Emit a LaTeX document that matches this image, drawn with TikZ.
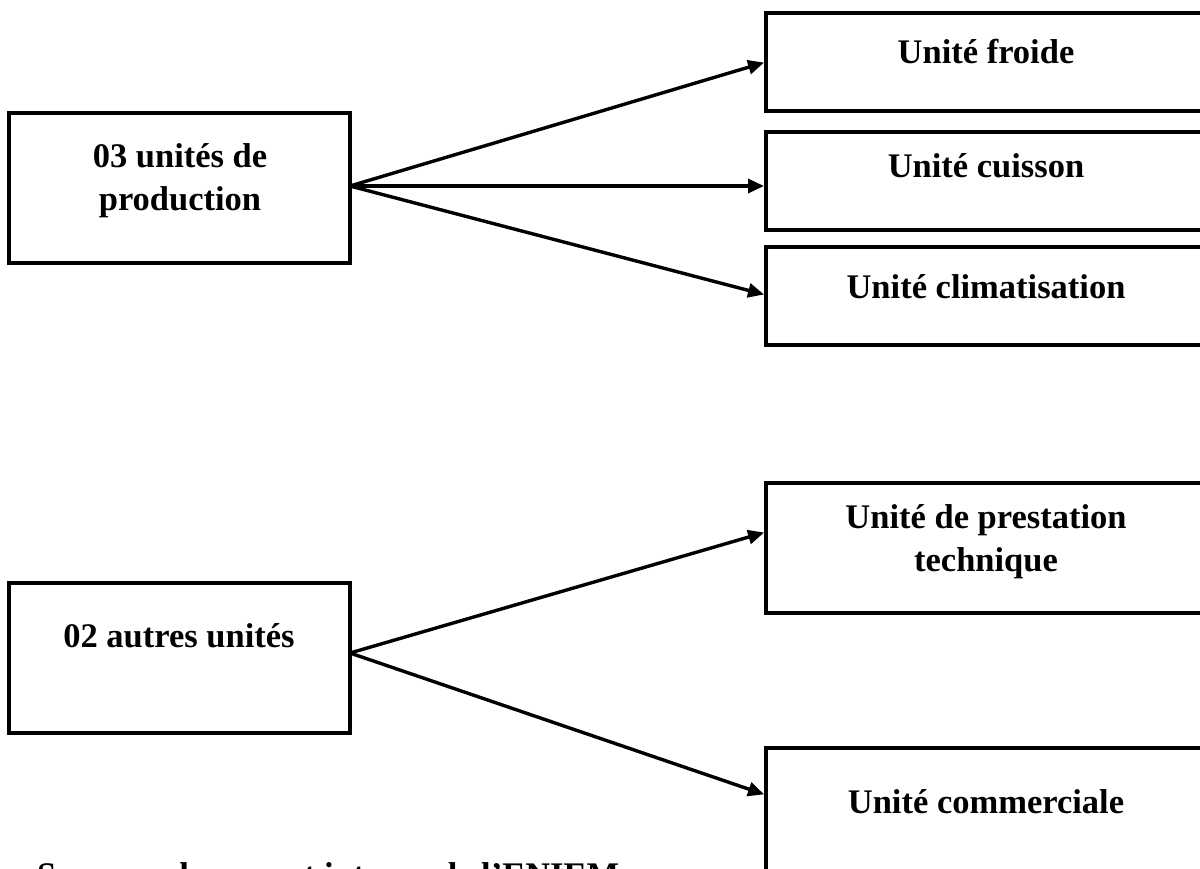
\documentclass[tikz,border=0pt]{standalone}
\usepackage{fontspec}
\setmainfont{Liberation Serif}
\usetikzlibrary{arrows.meta}
\begin{document}
\begin{tikzpicture}[x=1pt,y=-1pt,
  unitbox/.style={draw=black, line width=3.8pt, rectangle, inner sep=0pt, outer sep=0pt},
  leftbox/.style={unitbox, minimum width=341pt},
  rightbox/.style={unitbox, minimum width=440pt},
  txt/.style={anchor=base, align=center, inner sep=0pt, font=\fontsize{34.5}{43}\selectfont\bfseries},
  arr/.style={line width=3.4pt, -{Triangle[length=16pt,width=14pt]}, shorten >=2pt}
]
\useasboundingbox (0,0) rectangle (1200,868);
\clip (0,0) rectangle (1200,868);

% source boxes
\node[leftbox, minimum height=150pt] (prod) at (179.5,188) {};
\node[leftbox, minimum height=150pt] (autres) at (179.5,658) {};

% target boxes
\node[rightbox, minimum height=98pt] (froide) at (986,62) {};
\node[rightbox, minimum height=98pt] (cuisson) at (986,181) {};
\node[rightbox, minimum height=98pt] (clim) at (986,296) {};
\node[rightbox, minimum height=130pt] (prest) at (986,548) {};
\node[rightbox, minimum height=130pt] (comm) at (986,813) {};

% labels (base anchor sits on the last line)
\node[txt] (tprod) at (180,210) {03 unités de\\production};
\node[txt] (tautres) at (179,647) {02 autres unités};
\node[txt] (tfroide) at (986,63) {Unité froide};
\node[txt] (tcuisson) at (986,177) {Unité cuisson};
\node[txt] (tclim) at (986,298) {Unité climatisation};
\node[txt] (tprest) at (986,571) {Unité de prestation\\technique};
\node[txt] (tcomm) at (986,813) {Unité commerciale};
\node[txt, anchor=base west] (source) at (37,886) {Source : document interne de l’ENIEM};

% connectors
\draw[arr] ([yshift=2pt]prod.east) -- (froide.west);
\draw[arr] ([yshift=2pt]prod.east) -- ([yshift=-5pt]cuisson.west);
\draw[arr] ([yshift=2pt]prod.east) -- ([yshift=1pt]clim.west);
\draw[arr] ([yshift=5pt]autres.east) -- ([yshift=16pt]prest.west);
\draw[arr] ([yshift=5pt]autres.east) -- ([yshift=18pt]comm.west);
\end{tikzpicture}
\end{document}
